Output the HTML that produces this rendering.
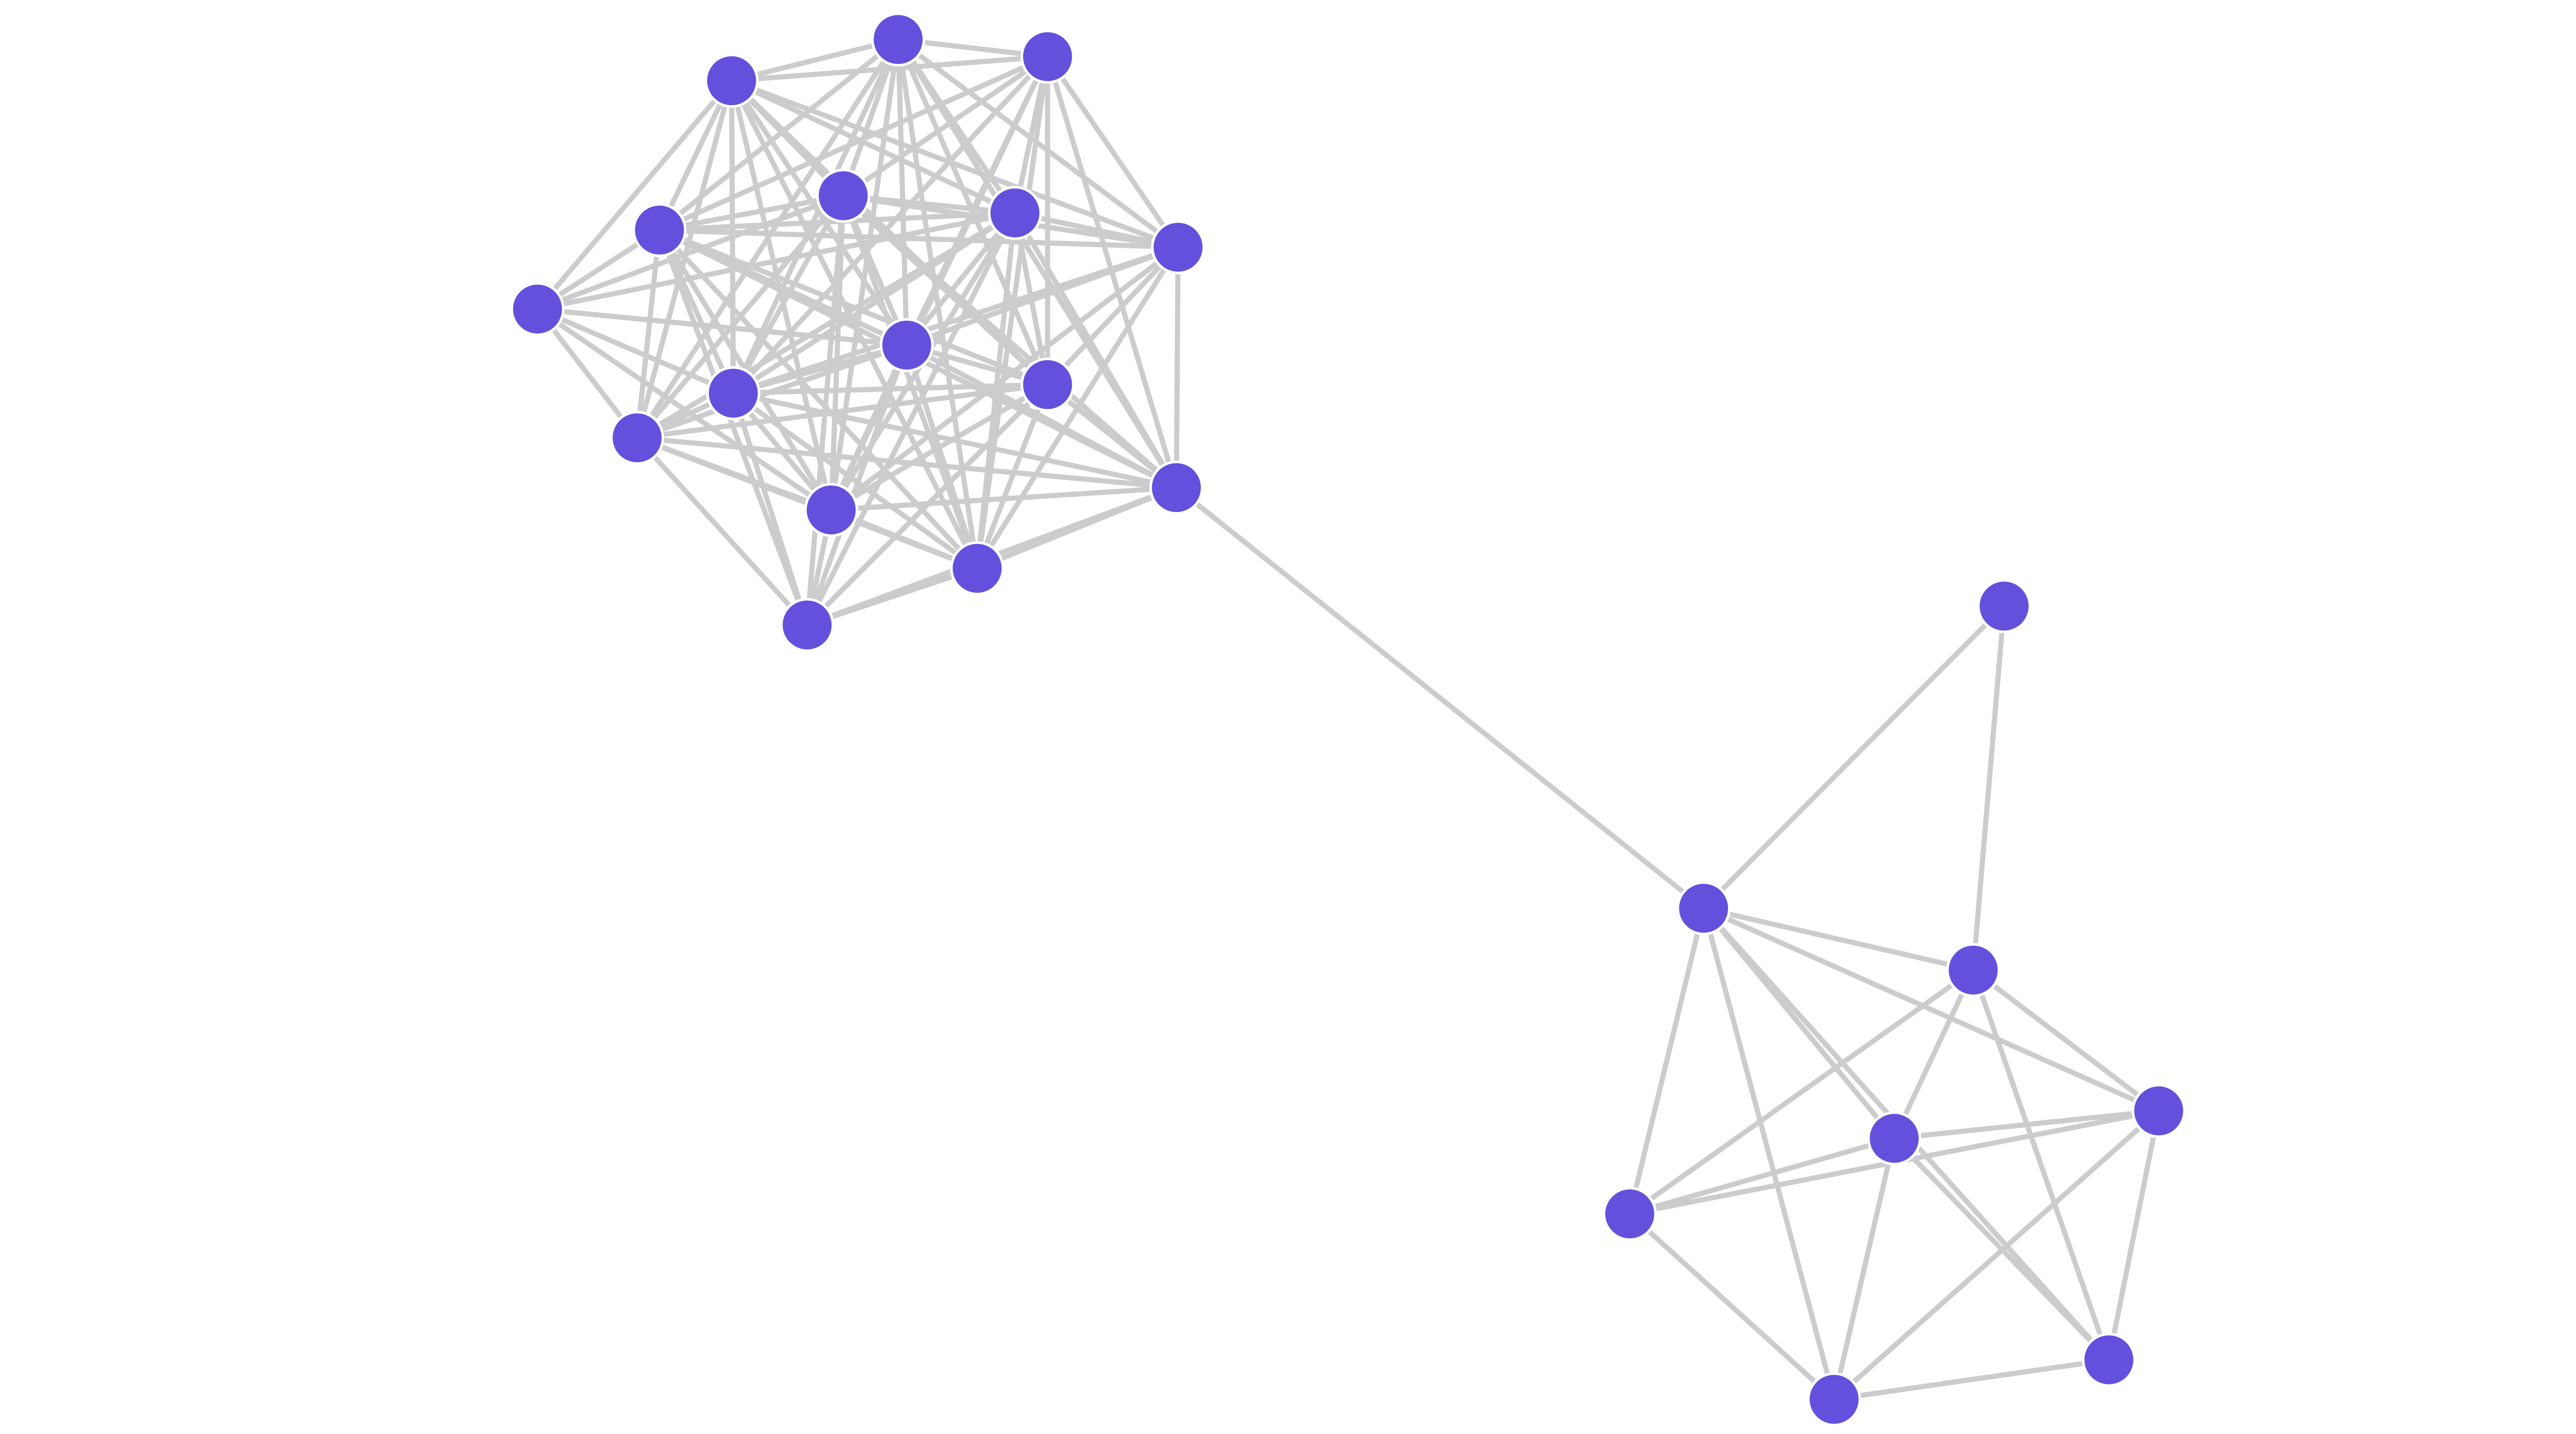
<!DOCTYPE html>
<html><head><meta charset="utf-8"><style>
html,body{margin:0;padding:0;background:#fff;width:5200px;height:2784px;overflow:hidden}
svg{display:block}
</style></head><body>
<svg id="g" xmlns="http://www.w3.org/2000/svg" width="5200" height="2784" viewBox="0 0 1560 835.2">
<g id="edges" stroke="#cccccc" stroke-width="3" stroke-linecap="round"></g>
<g id="nodes" fill="#6351de" stroke="#ffffff" stroke-width="1.5"></g>
</svg>
<script>
var N={A:[426,47],B:[523,23],C:[610,33],D:[491,114],E:[591,124],F:[384,134],G:[686,144],H:[313,180],I:[528,201],J:[610,224],K:[427,229],L:[371,255],M:[685,284],N:[484,297],O:[569,331],P:[470,364],
Q:[1167,353],R:[992,529],S:[1149,565],T:[1257,647],U:[1103,663],V:[949,707],W:[1228,792],X:[1068,815]};
var c1="ABCDEFGHIJKLMNOP".split(""),E=[];
var skip=["HG","HC","HB","HM","HO","AP","BP","CP","GP","HP","AM","CL","GL","HJ"];
for(var i=0;i<c1.length;i++)for(var j=i+1;j<c1.length;j++){
 var p=c1[i]+c1[j],q=c1[j]+c1[i];
 if(skip.indexOf(p)>=0||skip.indexOf(q)>=0)continue;
 E.push(p);}
E=E.concat(["MR","RQ","QS","RS","RT","RU","RW","RV","RX","SV","SU","ST","SW","UT","UV","VT","UX","UW","TX","TW","VX","XW"]);
var ns="http://www.w3.org/2000/svg",eg=document.getElementById("edges"),ng=document.getElementById("nodes");
E.forEach(function(e){var a=N[e[0]],b=N[e[1]],l=document.createElementNS(ns,"line");
l.setAttribute("x1",a[0]);l.setAttribute("y1",a[1]);l.setAttribute("x2",b[0]);l.setAttribute("y2",b[1]);eg.appendChild(l);});
for(var k in N){var c=document.createElementNS(ns,"circle");c.setAttribute("cx",N[k][0]);c.setAttribute("cy",N[k][1]);c.setAttribute("r",15);ng.appendChild(c);}
</script>
</body></html>
